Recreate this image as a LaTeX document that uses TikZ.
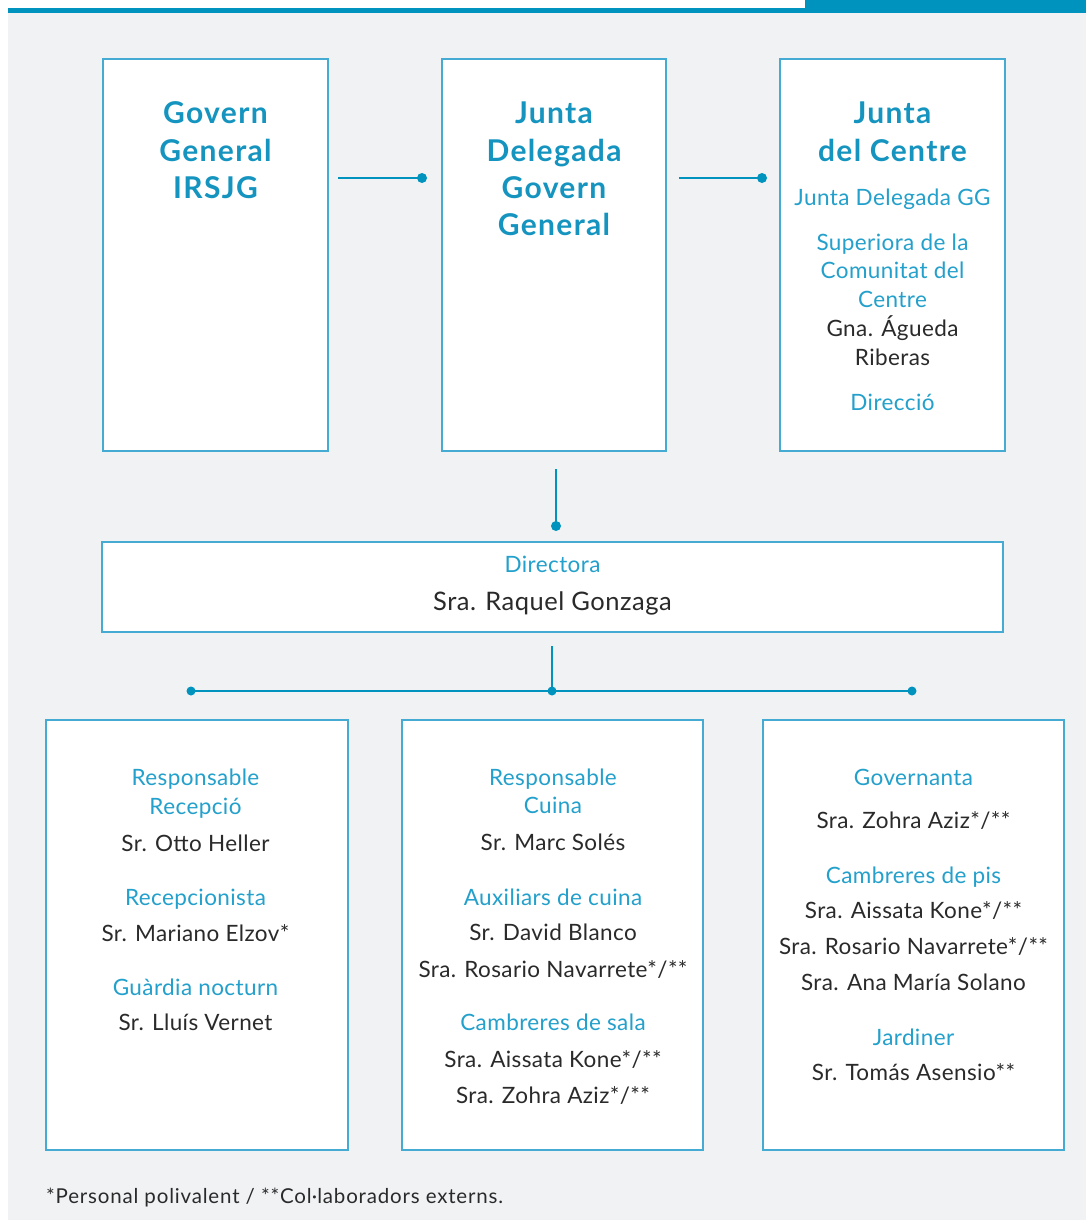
\documentclass[tikz,border=0pt]{standalone}
\usepackage{fontspec}
\setmainfont{Lato}
\usetikzlibrary{calc}
\definecolor{bar}{HTML}{0093BD}
\definecolor{bg}{HTML}{F0F2F4}
\definecolor{frame}{HTML}{45ABD2}
\definecolor{ttlblue}{HTML}{1494BF}
\definecolor{roleblue}{HTML}{23A0CB}
\definecolor{ink}{HTML}{2A2A2A}
\tikzset{
  box/.style={draw=frame, line width=1.4pt, fill=white, inner sep=0pt},
  ttl/.style={anchor=base, text=ttlblue, font=\fontsize{30}{34}\selectfont\bfseries\addfontfeatures{LetterSpace=4.5}, inner sep=0pt},
  role/.style={anchor=base, text=roleblue, font=\fontsize{22.5}{26}\selectfont\addfontfeatures{LetterSpace=1.8}, inner sep=0pt},
  pers/.style={anchor=base, text=ink, font=\fontsize{22.5}{26}\selectfont\addfontfeatures{LetterSpace=1.8}, inner sep=0pt},
  conn/.style={draw=bar, line width=2.6pt},
  dot/.style={fill=bar},
}
\begin{document}
\begin{tikzpicture}[x=1pt,y=-1pt]
\useasboundingbox (0,0) rectangle (1086,1220);
\fill[white] (0,0) rectangle (1086,1220);
\fill[bg] (8,13) rectangle (1086,1220);
\fill[bar] (8,8) rectangle (1086,13);
\fill[bar] (805,0) rectangle (1086,13);

% top boxes
\draw[box] (103,59) rectangle (328,451);
\draw[box] (442,59) rectangle (666,451);
\draw[box] (780,59) rectangle (1005,451);

\node[ttl] (t1a) at (215.5,124) {Govern};
\node[ttl] (t1b) at (215.5,161) {General};
\node[ttl] (t1c) at (215.5,198) {IRSJG};

\node[ttl] (t2a) at (554,124) {Junta};
\node[ttl] (t2b) at (554,161) {Delegada};
\node[ttl] (t2c) at (554,198) {Govern};
\node[ttl] (t2d) at (554,235) {General};

\node[ttl] (t3a) at (892.5,124) {Junta};
\node[ttl] (t3b) at (892.5,161) {del Centre};
\node[role] (t3c) at (892.5,205) {Junta Delegada GG};
\node[role] (t3d) at (892.5,250) {Superiora de la};
\node[role] (t3e) at (892.5,278) {Comunitat del};
\node[role] (t3f) at (892.5,307) {Centre};
\node[pers] (t3g) at (892.5,336) {Gna. Águeda};
\node[pers] (t3h) at (892.5,365) {Riberas};
\node[role] (t3i) at (892.5,410) {Direcció};

% top connectors
\coordinate (c1s) at (338,178); \coordinate (c1e) at (422,178);
\draw[conn] (c1s) -- (c1e); \fill[dot] (c1e) circle (5);
\coordinate (c2s) at (679,178); \coordinate (c2e) at (762,178);
\draw[conn] (c2s) -- (c2e); \fill[dot] (c2e) circle (5);
\coordinate (c3s) at (556,469); \coordinate (c3e) at (556,526);
\draw[conn] (c3s) -- (c3e); \fill[dot] (c3e) circle (5);

% director
\draw[box] (102,542) rectangle (1003,632);
\node[role] (d1) at (552.5,572) {Directora};
\node[pers, font=\fontsize{25.5}{28}\selectfont\addfontfeatures{LetterSpace=2}] (d2) at (552.5,610) {Sra. Raquel Gonzaga};

% lower connectors
\coordinate (h0) at (552,646);
\coordinate (hm) at (552,691);
\coordinate (hl) at (191,691);
\coordinate (hr) at (912,691);
\draw[conn] (h0) -- (hm);
\draw[conn] (hl) -- (hr);
\fill[dot] (hl) circle (4.5);
\fill[dot] (hm) circle (4.5);
\fill[dot] (hr) circle (4.5);

% bottom boxes
\draw[box] (46,720) rectangle (348,1150);
\draw[box] (402,720) rectangle (703,1150);
\draw[box] (763,720) rectangle (1064,1150);

\node[role] (a1) at (195.5,785) {Responsable};
\node[role] (a2) at (195.5,814) {Recepció};
\node[pers] (a3) at (195.5,851) {Sr. Otto Heller};
\node[role] (a4) at (195.5,905) {Recepcionista};
\node[pers] (a5) at (195.5,941) {Sr. Mariano Elzov*};
\node[role] (a6) at (195.5,995) {Guàrdia nocturn};
\node[pers] (a7) at (195.5,1030) {Sr. Lluís Vernet};

\node[role] (b1) at (553,785) {Responsable};
\node[role] (b2) at (553,813) {Cuina};
\node[pers] (b3) at (553,850) {Sr. Marc Solés};
\node[role] (b4) at (553,905) {Auxiliars de cuina};
\node[pers] (b5) at (553,940) {Sr. David Blanco};
\node[pers] (b6) at (553,977) {Sra. Rosario Navarrete*/**};
\node[role] (b7) at (553,1030) {Cambreres de sala};
\node[pers] (b8) at (553,1067) {Sra. Aissata Kone*/**};
\node[pers] (b9) at (553,1103) {Sra. Zohra Aziz*/**};

\node[role] (e1) at (913.5,785) {Governanta};
\node[pers] (e2) at (913.5,828) {Sra. Zohra Aziz*/**};
\node[role] (e3) at (913.5,883) {Cambreres de pis};
\node[pers] (e4) at (913.5,918) {Sra. Aissata Kone*/**};
\node[pers] (e5) at (913.5,954) {Sra. Rosario Navarrete*/**};
\node[pers] (e6) at (913.5,990) {Sra. Ana María Solano};
\node[role] (e7) at (913.5,1045) {Jardiner};
\node[pers] (e8) at (913.5,1080) {Sr. Tomás Asensio**};

\node[anchor=base west, text=ink, font=\fontsize{20.5}{24}\selectfont\addfontfeatures{LetterSpace=4}, inner sep=0pt] (fn) at (46,1203) {*Personal polivalent / **Col·laboradors externs.};
\end{tikzpicture}
\end{document}
